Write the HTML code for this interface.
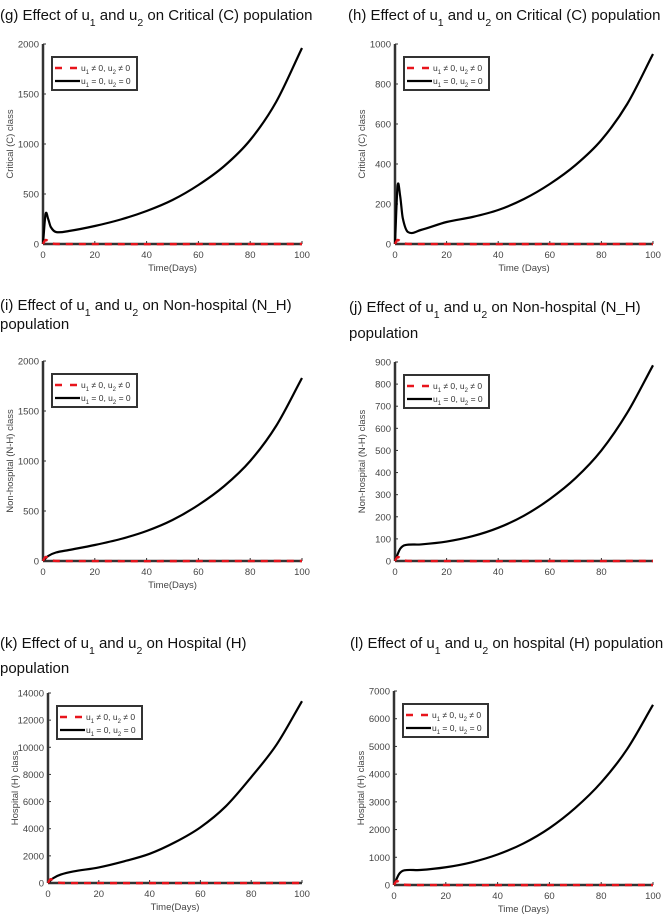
<!DOCTYPE html>
<html><head><meta charset="utf-8"><style>
body{margin:0;background:#fff;width:666px;height:917px;overflow:hidden}
svg{display:block}
.t{font-family:"Liberation Sans",sans-serif;font-size:15px;fill:#111}
.tk{font-family:"Liberation Sans",sans-serif;font-size:9.5px;fill:#444}
.lg{font-family:"Liberation Sans",sans-serif;font-size:8.5px;fill:#333}
</style></head><body>
<svg id="s" width="666" height="917"></svg>
<script>
// ---- data ----
const gT=[0,1,2,3,5,10,20,30,40,50,60,70,80,90,100];
const gBase=[0,300,250,170,120,130,180,245,330,440,590,780,1040,1420,1960];
const hT=[0,1,2,3,5,10,20,30,40,50,60,70,80,90,100];
const hBase=[0,290,240,130,60,70,110,135,170,225,300,395,520,700,950];
const iT=[0,2,5,10,20,30,40,50,60,70,80,90,100];
const iBase=[0,50,85,110,160,220,300,410,560,750,1000,1350,1830];
const jT=[0,2,4,10,20,30,40,50,60,70,80,90,100];
const jBase=[0,55,72,75,88,112,150,205,280,375,500,670,885];
const kT=[0,2,5,10,20,30,40,50,60,70,80,90,100];
const kBase=[0,350,620,850,1150,1600,2150,3000,4100,5650,7800,10200,13400];
const lT=[0,2,4,10,20,30,40,50,60,70,80,90,100];
const lBase=[0,400,530,540,640,820,1100,1500,2050,2780,3700,4900,6500];
const ctrlVals=[0,20,5,0,0];const ctrlT=[0,1,3,6,100];
const xTicks=[0,20,40,60,80,100];
const jXTicks=[0,20,40,60,80];
const gY=[0,500,1000,1500,2000],hY=[0,200,400,600,800,1000],iY=[0,500,1000,1500,2000],
jY=[0,100,200,300,400,500,600,700,800,900],kY=[0,2000,4000,6000,8000,10000,12000,14000],lY=[0,1000,2000,3000,4000,5000,6000,7000];
const NS="http://www.w3.org/2000/svg",S=document.getElementById('s');
function el(t,a,p){const e=document.createElementNS(NS,t);for(const k in a)e.setAttribute(k,a[k]);(p||S).appendChild(e);return e;}
function sub(p,x,y,parts){const e=el('text',{x:x,y:y,class:p.cls},p.par);parts.forEach(q=>{const ts=el('tspan',q[1]?{'baseline-shift':'sub','font-size':'70%'}:{},e);ts.textContent=q[0];});return e;}
function path(T,V,sx,sy){let pts=T.map((t,i)=>[sx(t),sy(V[i])]);let d='M'+pts[0][0]+','+pts[0][1];
for(let i=0;i<pts.length-1;i++){const p0=pts[Math.max(0,i-1)],p1=pts[i],p2=pts[i+1],p3=pts[Math.min(pts.length-1,i+2)];
const h=p2[0]-p1[0];
const m1=(p2[1]-p0[1])/((p2[0]-p0[0])||1),m2=(p3[1]-p1[1])/((p3[0]-p1[0])||1);
d+=` C${p1[0]+h/3},${p1[1]+m1*h/3} ${p2[0]-h/3},${p2[1]-m2*h/3} ${p2[0]},${p2[1]}`;}return d;}
function panel(o){
 const g=el('g',{});
 o.title.forEach((ln,i)=>{const t=sub({cls:'t',par:g},o.tx,o.ty+i*o.tl,ln);});
 const sx=v=>o.L+(o.R-o.L)*v/100,sy=v=>o.B-(o.B-o.T)*v/o.ymax;
 el('line',{x1:o.L,y1:o.T,x2:o.L,y2:o.B,stroke:'#333','stroke-width':2.5},g);
 el('line',{x1:o.L,y1:o.B,x2:o.R,y2:o.B,stroke:'#333','stroke-width':2.5},g);
 o.yt.forEach(v=>{el('line',{x1:o.L,y1:sy(v),x2:o.L+3,y2:sy(v),stroke:'#333'},g);const t=el('text',{x:o.L-4,y:sy(v)+3.5,class:'tk','text-anchor':'end'},g);t.textContent=v;});
 o.xt.forEach(v=>{el('line',{x1:sx(v),y1:o.B,x2:sx(v),y2:o.B-3,stroke:'#333'},g);const t=el('text',{x:sx(v),y:o.B+14,class:'tk','text-anchor':'middle'},g);t.textContent=v;});
 const xl=el('text',{x:(o.L+o.R)/2,y:o.B+27,class:'tk','text-anchor':'middle','font-size':'10.5px'},g);xl.textContent=o.xlab;
 const cy=(o.T+o.B)/2,yl=el('text',{x:o.L-30,y:cy,class:'tk','text-anchor':'middle','font-size':'10.5px',transform:`rotate(-90 ${o.L-30} ${cy})`},g);yl.textContent=o.ylab;
 const c=el('path',{d:path(o.t,o.v,sx,sy),fill:'none',stroke:'#000','stroke-width':2.2},g);
 const r=el('path',{d:path(ctrlT,ctrlVals.map(v=>v*o.ymax/1000),sx,sy),fill:'none',stroke:'#e8141c','stroke-width':2.4,'stroke-dasharray':'7,6'},g);
 const lx=o.L+9,ly=o.T+13,lgG=el('g',{},g);
 el('rect',{x:lx,y:ly,width:85,height:33,fill:'#fff',stroke:'#333','stroke-width':2},lgG);
 el('line',{x1:lx+3,y1:ly+11,x2:lx+27,y2:ly+11,stroke:'#e8141c','stroke-width':2.4,'stroke-dasharray':'7,8'},lgG);
 el('line',{x1:lx+3,y1:ly+24,x2:lx+28,y2:ly+24,stroke:'#000','stroke-width':2.2},lgG);
 sub({cls:'lg',par:lgG},lx+29,ly+14,[['u'],['1',1],[' ≠ 0, u'],['2',1],[' ≠ 0']]);
 sub({cls:'lg',par:lgG},lx+29,ly+27,[['u'],['1',1],[' = 0, u'],['2',1],[' = 0']]);
}
const ti=(lbl,tail)=>[[lbl+' Effect of '],['u'],['1',1],[' and '],['u'],['2',1],[' on '+tail]];
panel({name:'panel-g',title:[ti('(g)','Critical (C) population')],tx:0,ty:20,tl:0,L:43,R:302,T:44,B:244,ymax:2000,yt:gY,xt:xTicks,xlab:'Time(Days)',ylab:'Critical (C) class',t:gT,v:gBase});
panel({name:'panel-h',title:[ti('(h)','Critical (C) population')],tx:348,ty:20,tl:0,L:395,R:653,T:44,B:244,ymax:1000,yt:hY,xt:xTicks,xlab:'Time (Days)',ylab:'Critical (C) class',t:hT,v:hBase});
panel({name:'panel-i',title:[ti('(i)','Non-hospital (N_H)'),[['population']]],tx:0,ty:310,tl:19,L:43,R:302,T:361,B:561,ymax:2000,yt:iY,xt:xTicks,xlab:'Time(Days)',ylab:'Non-hospital (N-H) class',t:iT,v:iBase});
panel({name:'panel-j',title:[ti('(j)','Non-hospital (N_H)'),[['population']]],tx:349,ty:312,tl:26,L:395,R:653,T:362,B:561,ymax:900,yt:jY,xt:jXTicks,xlab:'',ylab:'Non-hospital (N-H) class',t:jT,v:jBase});
panel({name:'panel-k',title:[ti('(k)','Hospital (H)'),[['population']]],tx:0,ty:648,tl:25,L:48,R:302,T:693,B:883,ymax:14000,yt:kY,xt:xTicks,xlab:'Time(Days)',ylab:'Hospital (H) class',t:kT,v:kBase});
panel({name:'panel-l',title:[ti('(l)','hospital (H) population')],tx:350,ty:648,tl:0,L:394,R:653,T:691,B:885,ymax:7000,yt:lY,xt:xTicks,xlab:'Time (Days)',ylab:'Hospital (H) class',t:lT,v:lBase});
</script></body></html>
